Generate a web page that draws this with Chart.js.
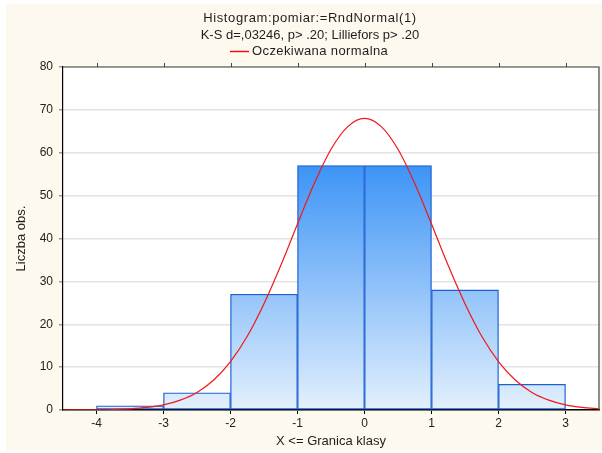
<!DOCTYPE html>
<html>
<head>
<meta charset="utf-8">
<script src="https://cdn.jsdelivr.net/npm/chart.js@4.4.1/dist/chart.umd.min.js"></script>
<style>
  html, body { margin: 0; padding: 0; background: #fff; }
  #wrap { width: 602px; height: 453px; }
</style>
</head>
<body>
<div id="wrap"><canvas id="histchart" width="602" height="453"></canvas></div>
<script>
// histogram classes (bin centres), counts per class
var binCentres = [-3.5, -2.5, -1.5, -0.5, 0.5, 1.5, 2.5];
var binCounts  = [1, 4, 27, 57, 57, 28, 6];

// expected normal curve
var curveX = [-4.5, -4.25, -4, -3.75, -3.5, -3.25, -3, -2.75, -2.5, -2.25, -2, -1.75, -1.5, -1.25, -1, -0.75, -0.5, -0.25, 0,
              0.25, 0.5, 0.75, 1, 1.25, 1.5, 1.75, 2, 2.25, 2.5, 2.75, 3, 3.25, 3.5];
var curveY = [0.0, 0.02, 0.05, 0.12, 0.28, 0.6, 1.2, 2.3, 4.1, 7.0, 11.3, 17.2, 24.8, 33.7, 43.4, 52.8, 60.8, 66.1, 68,
              66.1, 60.8, 52.8, 43.4, 33.7, 24.8, 17.2, 11.3, 7.0, 4.1, 2.3, 1.2, 0.6, 0.28];

var xTicks = [-4, -3, -2, -1, 0, 1, 2, 3];
var yTicks = [0, 10, 20, 30, 40, 50, 60, 70, 80];

var titleLines = ['Histogram:pomiar:=RndNormal(1)', 'K-S d=,03246, p> .20; Lilliefors p> .20'];
var legendText = 'Oczekiwana normalna';

var FONT = '"Liberation Sans", Arial, sans-serif';

var barData = binCentres.map(function(c, i){ return {x: c, y: binCounts[i]}; });
var curveData = curveX.map(function(v, i){ return {x: v, y: curveY[i]}; });

// background: cream panel, white plot area
var backgroundPlugin = {
    id: 'panelBg',
    beforeDraw: function(chart){
        var ctx = chart.ctx, a = chart.chartArea;
        ctx.save();
        ctx.fillStyle = '#ffffff';
        ctx.fillRect(0, 0, chart.width, chart.height);
        ctx.fillStyle = '#fdf9ef';
        ctx.fillRect(6, 4, chart.width - 6, 447);
        ctx.fillStyle = '#ffffff';
        ctx.fillRect(a.left, a.top, a.right - a.left, a.bottom - a.top);
        ctx.restore();
    }
};

// frame (top + right), top tick marks, header text and legend
var framePlugin = {
    id: 'frameAndHeader',
    afterDraw: function(chart){
        var ctx = chart.ctx, a = chart.chartArea, xs = chart.scales.x;
        ctx.save();
        ctx.strokeStyle = '#444';
        ctx.lineWidth = 1.2;
        ctx.beginPath();
        ctx.moveTo(a.left, a.top);
        ctx.lineTo(a.right, a.top);
        ctx.lineTo(a.right, a.bottom);
        ctx.stroke();
        ctx.lineWidth = 1;
        ctx.beginPath();
        xTicks.forEach(function(v){
            var px = Math.round(xs.getPixelForValue(v)) + 0.5;
            ctx.moveTo(px, a.top);
            ctx.lineTo(px, a.top - 4);
        });
        ctx.stroke();

        // header
        var cx = 310;
        ctx.fillStyle = '#1e1e1e';
        ctx.font = '13px ' + FONT;
        ctx.textAlign = 'center';
        ctx.textBaseline = 'alphabetic';
        ctx.letterSpacing = '0.6px';
        ctx.fillText(titleLines[0], cx, 22);
        ctx.letterSpacing = '0px';
        ctx.fillText(titleLines[1], cx, 39);
        ctx.letterSpacing = '0.4px';
        ctx.textAlign = 'left';
        ctx.fillText(legendText, 252, 55);
        ctx.restore();

        ctx.save();
        ctx.strokeStyle = '#ff0000';
        ctx.lineWidth = 1.4;
        ctx.beginPath();
        ctx.moveTo(230, 51.5);
        ctx.lineTo(249, 51.5);
        ctx.stroke();
        ctx.restore();
    }
};

var ctxH = document.getElementById('histchart').getContext('2d');

var histChart = new Chart(ctxH, {
    type: 'bar',
    data: {
        datasets: [
            {
                type: 'line',
                label: legendText,
                data: curveData,
                borderColor: '#f01818',
                borderWidth: 1.2,
                pointRadius: 0,
                fill: false,
                cubicInterpolationMode: 'monotone',
                order: 0
            },
            {
                type: 'bar',
                label: 'Liczba obs.',
                data: barData,
                barPercentage: 1,
                categoryPercentage: 1,
                borderColor: '#1c5fd2',
                borderWidth: 1.3,
                borderSkipped: false,
                backgroundColor: function(c){
                    var chart = c.chart;
                    if (!chart.chartArea) { return '#8fc2f9'; }
                    var ys = chart.scales.y;
                    var g = chart.ctx.createLinearGradient(0, ys.getPixelForValue(Math.max.apply(null, binCounts)), 0, ys.getPixelForValue(0));
                    g.addColorStop(0, '#3d94f6');
                    g.addColorStop(1, '#e3f0fd');
                    return g;
                },
                order: 1
            }
        ]
    },
    options: {
        responsive: false,
        animation: false,
        devicePixelRatio: 1,
        layout: { padding: { left: 0, top: 67, right: 3, bottom: 0 } },
        plugins: {
            legend: { display: false },
            title: { display: false },
            tooltip: { enabled: false }
        },
        scales: {
            x: {
                type: 'linear',
                min: -4.5,
                max: 3.5,
                offset: false,
                afterBuildTicks: function(s){ s.ticks = xTicks.map(function(v){ return {value: v}; }); },
                afterFit: function(s){ s.height = 43; },
                border: { color: '#000', width: 1.5 },
                grid: { offset: false, drawOnChartArea: false, drawTicks: true, tickLength: 4, tickColor: '#000' },
                ticks: { color: '#222', font: { family: FONT, size: 12 }, padding: 2, autoSkip: false, maxRotation: 0 },
                title: { display: true, text: 'X <= Granica klasy', color: '#1e1e1e', font: { family: FONT, size: 13 }, padding: { top: 0, bottom: 4 } }
            },
            y: {
                min: 0,
                max: 80,
                afterBuildTicks: function(s){ s.ticks = yTicks.map(function(v){ return {value: v}; }); },
                afterFit: function(s){ s.width = 63; },
                border: { color: '#000', width: 1.2 },
                grid: { color: '#e3e3e3', lineWidth: 1.5, drawTicks: true, tickLength: 4, tickColor: '#999' },
                ticks: { color: '#222', font: { family: FONT, size: 12 }, padding: 6 },
                title: { display: true, text: 'Liczba obs.', color: '#1e1e1e', font: { family: FONT, size: 13 }, padding: { top: 14, bottom: 0 } }
            }
        }
    },
    plugins: [backgroundPlugin, framePlugin]
});
</script>
</body>
</html>
